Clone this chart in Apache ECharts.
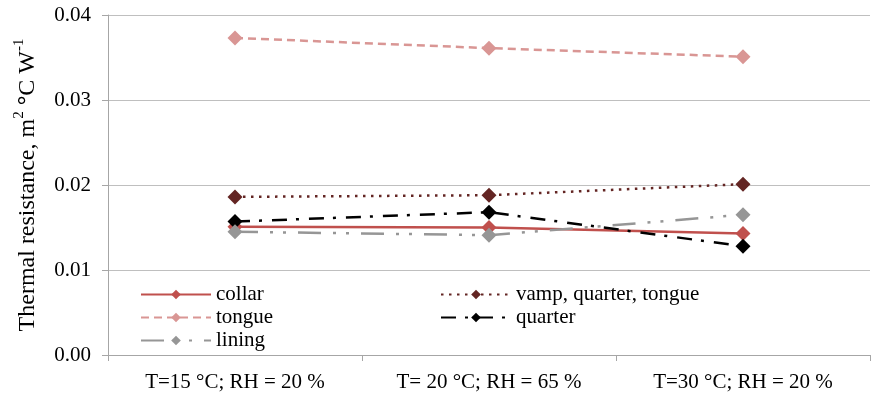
<!DOCTYPE html>
<html>
<head>
<meta charset="utf-8">
<script src="https://cdn.jsdelivr.net/npm/echarts@6/dist/echarts.min.js"></script>
<style>
  html, body { margin: 0; padding: 0; background: #fff; }
  #chart { width: 871px; height: 397px; }
</style>
</head>
<body>
<div id="chart"></div>
<script>
// Test conditions (x categories)
const conditions = ['T=15 °C; RH = 20 %', 'T= 20 °C; RH = 65 %', 'T=30 °C; RH = 20 %'];

// Thermal resistance per shoe part, m² °C W⁻¹
const collar = [0.0151, 0.0150, 0.0143];
const tongue = [0.0373, 0.0361, 0.0351];
const vampQuarterTongue = [0.0186, 0.0188, 0.0201];
const quarter = [0.0157, 0.0168, 0.0128];
const lining = [0.0145, 0.0141, 0.0165];

// Y-axis ticks
const yTicks = [0.00, 0.01, 0.02, 0.03, 0.04];

const FONT = '"Liberation Serif", "Times New Roman", serif';

function makeSeries(name, data, color, width, dash) {
  return {
    name: name,
    type: 'line',
    data: data,
    symbol: 'diamond',
    symbolSize: 15,
    itemStyle: { color: color },
    lineStyle: { color: color, width: width, type: dash, cap: 'butt' },
    emphasis: { disabled: true },
    animation: false
  };
}

const legendText = { fontFamily: FONT, fontSize: 21, color: '#000', lineHeight: 21 };

const chart = echarts.init(document.getElementById('chart'));
chart.setOption({
  backgroundColor: '#ffffff',
  animation: false,
  grid: { left: 108, right: 1, top: 15, bottom: 42 },
  legend: [
    {
      orient: 'vertical',
      left: 135, top: 279,
      itemWidth: 70, itemHeight: 12, itemGap: 2,
      textStyle: legendText,
      data: ['collar', 'tongue', 'lining']
    },
    {
      orient: 'vertical',
      left: 435, top: 279,
      itemWidth: 70, itemHeight: 12, itemGap: 2,
      textStyle: legendText,
      data: ['vamp, quarter, tongue', 'quarter']
    }
  ],
  xAxis: {
    type: 'category',
    data: conditions,
    boundaryGap: true,
    axisLine: { lineStyle: { color: '#a6a6a6', width: 1 } },
    axisTick: { show: true, length: 6, alignWithLabel: false, lineStyle: { color: '#a6a6a6' } },
    axisLabel: { fontFamily: FONT, fontSize: 21, color: '#000', margin: 17 }
  },
  yAxis: {
    type: 'value',
    min: yTicks[0],
    max: yTicks[yTicks.length - 1],
    interval: 0.01,
    name: '{b|Thermal resistance, m}{s|2}{b| }{d|°}{b|C W}{s|-1}',
    nameLocation: 'middle',
    nameGap: 68,
    nameTextStyle: {
      fontFamily: FONT, fontSize: 24, color: '#000',
      rich: {
        b: { fontFamily: FONT, fontSize: 24, lineHeight: 28, verticalAlign: 'bottom', color: '#000' },
        d: { fontFamily: FONT, fontSize: 24, lineHeight: 28, verticalAlign: 'bottom', fontWeight: 'bold', color: '#000' },
        s: { fontFamily: FONT, fontSize: 15, lineHeight: 15, verticalAlign: 'top', color: '#000' }
      }
    },
    axisLine: { show: true, lineStyle: { color: '#a6a6a6', width: 1 } },
    axisTick: { show: true, length: 6, lineStyle: { color: '#a6a6a6' } },
    axisLabel: {
      fontFamily: FONT, fontSize: 21, color: '#000', margin: 17,
      formatter: v => v.toFixed(2)
    },
    splitLine: { show: true, lineStyle: { color: '#bfbfbf', width: 1 } }
  },
  series: [
    makeSeries('collar', collar, '#c0504d', 2.5, 'solid'),
    makeSeries('vamp, quarter, tongue', vampQuarterTongue, '#632523', 2.5, [2.5, 5.5]),
    makeSeries('tongue', tongue, '#d99694', 2.5, [8, 5]),
    makeSeries('quarter', quarter, '#000000', 2.5, [15, 9, 3, 10]),
    makeSeries('lining', lining, '#969696', 2.5, [23, 12, 3, 10, 3, 12])
  ]
});
</script>
</body>
</html>
